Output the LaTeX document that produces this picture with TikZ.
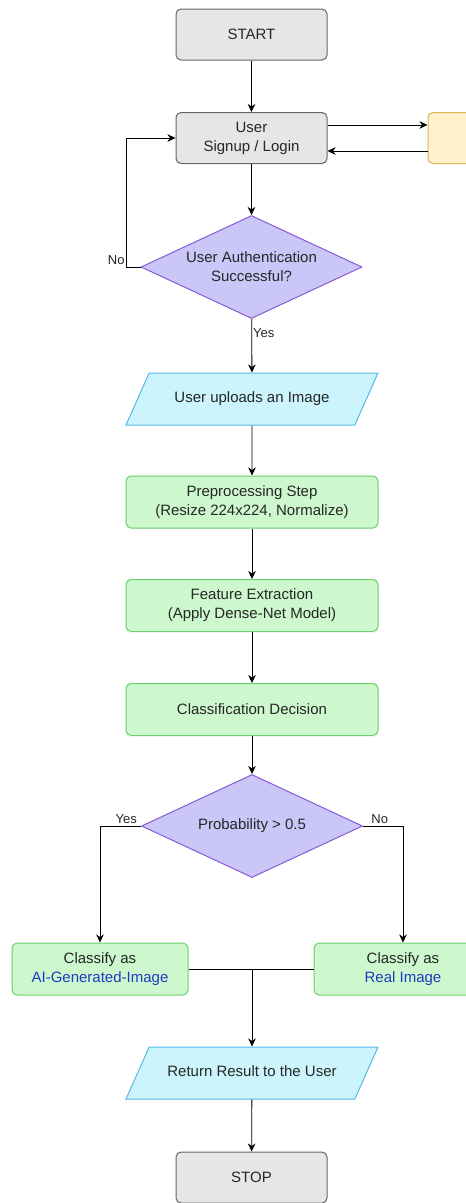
\documentclass[tikz,border=0pt]{standalone}
\usepackage{fontspec}
\setmainfont{Liberation Sans}
\usetikzlibrary{shapes.geometric,arrows.meta}

\definecolor{termfill}{HTML}{E6E6E6}
\definecolor{termline}{HTML}{666666}
\definecolor{notefill}{HTML}{FFF2CC}
\definecolor{noteline}{HTML}{D6B656}
\definecolor{askfill}{HTML}{CAC6F7}
\definecolor{askline}{HTML}{8A5AD6}
\definecolor{procfill}{HTML}{CDF7CD}
\definecolor{procline}{HTML}{6ACF6A}
\definecolor{iofill}{HTML}{CCF4FC}
\definecolor{ioline}{HTML}{58B9E6}
\definecolor{txt}{HTML}{262626}
\definecolor{result}{HTML}{1D3BC4}

\begin{document}
\begin{tikzpicture}[x=1pt,y=-1pt]
    \tikzstyle{arrow} = [->,>={Stealth[length=8pt,width=7.5pt,inset=2.5pt]},line width=0.8pt,black]
    \tikzstyle{base} = [text=txt, align=center, font=\fontsize{15}{19}\selectfont, line width=1pt]
    \tikzstyle{terminal} = [base, draw=termline, fill=termfill, rounded corners=5pt, minimum width=151pt, minimum height=51pt]
    \tikzstyle{process} = [base, draw=procline, fill=procfill, rounded corners=5pt, minimum width=252pt, minimum height=52pt]
    \tikzstyle{decision} = [base, draw=askline, fill=askfill, diamond, aspect=2.15, inner sep=0pt, minimum width=221pt, minimum height=103pt]
    \tikzstyle{io} = [base, draw=ioline, fill=iofill, trapezium, trapezium left angle=66, trapezium right angle=114, trapezium stretches body, text height=11pt, text depth=3.5pt, inner ysep=18.75pt, minimum width=252pt]
    \tikzstyle{lbl} = [text=txt, font=\fontsize{13}{15}\selectfont, inner sep=2pt]

    \clip (0,0) rectangle (466,1203);
    \fill [white] (0,0) rectangle (466,1203);

    % Start
    \node [terminal] (Start) at (251.5,34.5) {START};

    % Signup / login
    \node [terminal] (Login) at (251.5,138) {User\\Signup / Login};
    \draw [arrow] (Start) -- (Login);

    % Side box, runs off the right edge
    \node [base, draw=noteline, fill=notefill, rounded corners=5pt, minimum width=152pt, minimum height=51pt] (Auth) at (504,138) {};
    \draw [arrow] ([yshift=13pt]Login.east) -- ([yshift=13pt]Auth.west);
    \draw [arrow] ([yshift=-13pt]Auth.west) -- ([yshift=-13pt]Login.east);

    % Authentication check
    \node [decision] (Check) at (251.5,267) {User Authentication\\Successful?};
    \draw [arrow] (Login) -- (Check);
    \draw [arrow] (Check.west) -- ++(-14,0) node [lbl, above left, inner sep=1.5pt] (NoAuth) {No} |- (Login.west);

    % Upload
    \node [io] (Upload) at (252,399) {User uploads an Image};
    \draw [arrow] (Check) -- node [lbl, right, pos=0.27, inner sep=1pt] (YesAuth) {Yes} (Upload);

    % Preprocessing
    \node [process] (Prep) at (252,502) {Preprocessing Step\\(Resize 224x224, Normalize)};
    \draw [arrow] (Upload) -- (Prep);

    % Features
    \node [process] (Feature) at (252,605.5) {Feature Extraction\\(Apply Dense-Net Model)};
    \draw [arrow] (Prep) -- (Feature);

    % Classification
    \node [process] (Classify) at (252,709.5) {Classification Decision};
    \draw [arrow] (Feature) -- (Classify);

    % Threshold
    \node [decision] (Decide) at (252,826) {Probability {>} 0.5};
    \draw [arrow] (Classify) -- (Decide);

    % Two outcomes
    \node [process, minimum width=176pt] (AIImage) at (100,969) {Classify as\\\textcolor{result}{AI-Generated-Image}};
    \node [process, minimum width=178pt] (RealImage) at (403,969) {Classify as\\\textcolor{result}{Real Image}};
    \draw [arrow] (Decide.west) -| node [lbl, above, pos=0.18] (YesProb) {Yes} (AIImage);
    \draw [arrow] (Decide.east) -| node [lbl, above, pos=0.21] (NoProb) {No} (RealImage);

    % Result
    \node [io] (Result) at (252,1073) {Return Result to the User};
    \draw [line width=0.8pt] (AIImage.east) -- (RealImage.west);
    \draw [arrow] (Result.north |- AIImage.east) -- (Result.north);

    % Stop
    \node [terminal] (Stop) at (251.5,1177.5) {STOP};
    \draw [arrow] (Result) -- (Stop);
\end{tikzpicture}
\end{document}
